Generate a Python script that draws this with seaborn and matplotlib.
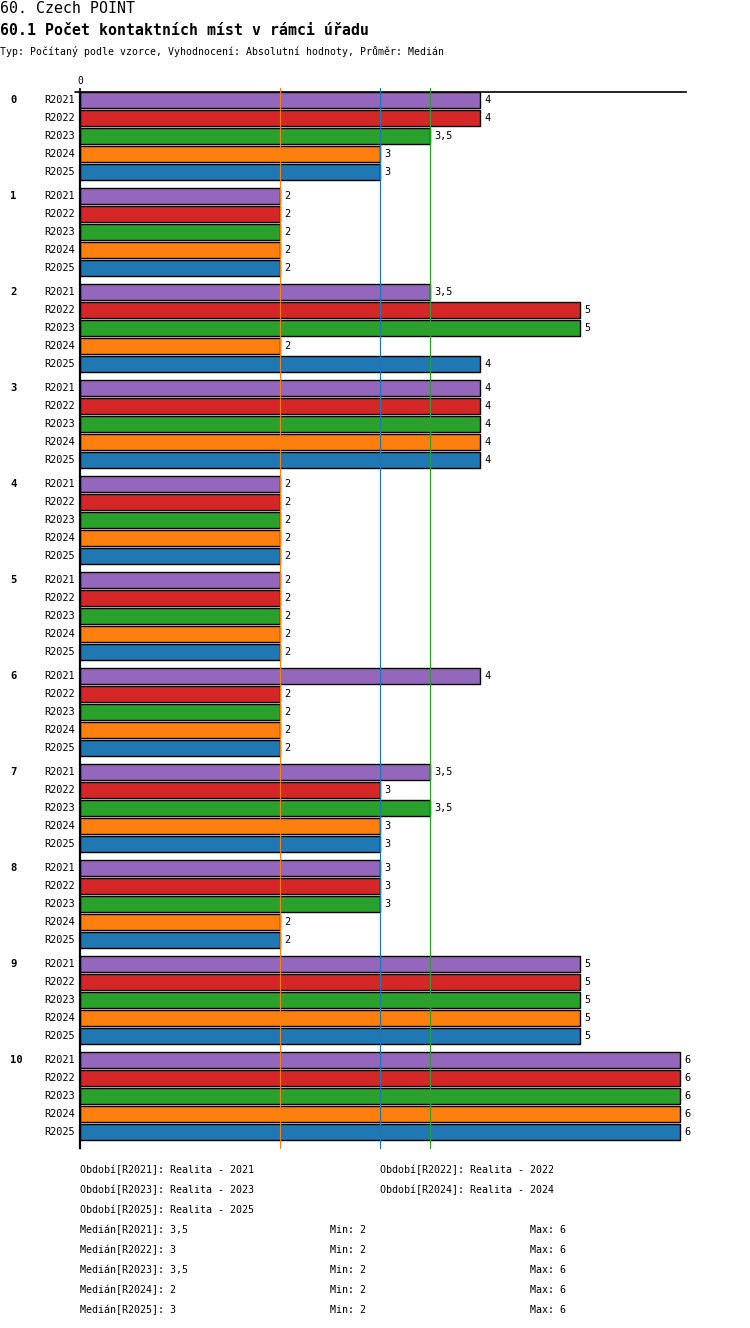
"""
Czech POINT - počet kontaktních míst, horizontální sloupce po obdobích.
"""

import matplotlib.pyplot as plt
import matplotlib.transforms as mtransforms
import numpy as np
import pandas as pd
import seaborn as sns


# ---------------------------------------------------
# Data
# ---------------------------------------------------

groups = ["0", "1", "2", "3", "4", "5", "6", "7", "8", "9", "10"]
periods = ["R2021", "R2022", "R2023", "R2024", "R2025"]
period_names = ["Realita - 2021", "Realita - 2022", "Realita - 2023",
                "Realita - 2024", "Realita - 2025"]

r2021 = [4, 2, 3.5, 4, 2, 2, 4, 3.5, 3, 5, 6]
r2022 = [4, 2, 5, 4, 2, 2, 2, 3, 3, 5, 6]
r2023 = [3.5, 2, 5, 4, 2, 2, 2, 3.5, 3, 5, 6]
r2024 = [3, 2, 2, 4, 2, 2, 2, 3, 2, 5, 6]
r2025 = [3, 2, 4, 4, 2, 2, 2, 3, 2, 5, 6]

colors = ["#9467bd", "#d62728", "#2ca02c", "#ff7f0e", "#1f77b4"]

series = [r2021, r2022, r2023, r2024, r2025]

df = pd.DataFrame({
    "group": [g for _ in periods for g in groups],
    "period": [p for p in periods for _ in groups],
    "value": [v for s in series for v in s],
})


def fmt(v):
    s = f"{v:g}"
    return s.replace(".", ",")


# ---------------------------------------------------
# Figure
# ---------------------------------------------------

sns.set_style("white")
plt.rcParams["font.family"] = ["DejaVu Sans Mono", "DejaVu Sans"]
plt.rcParams["text.color"] = "black"
plt.rcParams["xtick.color"] = "black"
plt.rcParams["axes.edgecolor"] = "black"

W, H = 750, 1328
fig = plt.figure(figsize=(W / 100, H / 100), dpi=100)

ax_left, ax_right = 80, 686
ax_top, ax_bottom = 92, 1148
ax = fig.add_axes([
    ax_left / W,
    1 - ax_bottom / H,
    (ax_right - ax_left) / W,
    (ax_bottom - ax_top) / H,
])

sns.barplot(
    data=df,
    x="value",
    y="group",
    hue="period",
    order=groups,
    hue_order=periods,
    palette=colors,
    orient="h",
    width=0.9375,
    gap=0.11,
    edgecolor="black",
    linewidth=1,
    saturation=1,
    legend=False,
    ax=ax,
)

ax.set_xlim(0, 6.06)
ax.set_ylim(10.542, -0.458)

# median lines
for s, c in zip(series, colors):
    ax.axvline(np.median(s), ymin=0, ymax=1 + 4 / 1056, color=c,
               linewidth=0.8, clip_on=False, zorder=5)

# spines
for side in ["right", "bottom"]:
    ax.spines[side].set_visible(False)
ax.spines["left"].set_linewidth(1.6)
ax.spines["top"].set_linewidth(1.2)
ax.plot([-5 / 606, 0], [1, 1], transform=ax.transAxes, color="black",
        linewidth=1.2, clip_on=False)

ax.xaxis.tick_top()
ax.set_xticks([0])
ax.set_xticklabels(["0"], fontsize=7)
ax.tick_params(axis="x", length=3, width=1.2, pad=1, colors="black")
ax.set_yticks([])
ax.set_xlabel("")
ax.set_ylabel("")

# labels per bar
blend = mtransforms.blended_transform_factory(fig.transFigure, ax.transData)
for i, cont in enumerate(ax.containers):
    for j, bar in enumerate(cont):
        yc = bar.get_y() + bar.get_height() / 2
        w = bar.get_width()
        ax.text(w + 0.04, yc, fmt(w), va="center", ha="left", fontsize=7.4)
        fig.text(75 / W, yc, periods[i], transform=blend, va="center",
                 ha="right", fontsize=7.4)
        if i == 0:
            fig.text(10 / W, yc, groups[j], transform=blend, va="center",
                     ha="left", fontsize=7.6, fontweight="bold")


def ptext(x, y, s, va="center", **kw):
    fig.text(x / W, 1 - y / H, s, va=va, ha="left", **kw)


# titles
ptext(0, 13, "60. Czech POINT", va="baseline", fontsize=10.7)
ptext(0, 35, "60.1 Počet kontaktních míst v rámci úřadu", va="baseline",
      fontsize=10.7, fontweight="bold")
ptext(0, 55, "Typ: Počítaný podle vzorce, Vyhodnocení: Absolutní hodnoty, "
      "Průměr: Medián", va="baseline", fontsize=7.1)

# legend of periods
for k, (p, name) in enumerate(zip(periods, period_names)):
    x = 80 if k % 2 == 0 else 380
    y = 1170 + 20 * (k // 2)
    ptext(x, y, f"Období[{p}]: {name}", fontsize=7.2)

# stats
for k, (p, s) in enumerate(zip(periods, series)):
    y = 1230 + 20 * k
    ptext(80, y, f"Medián[{p}]: {fmt(np.median(s))}", fontsize=7.2)
    ptext(330, y, f"Min: {fmt(min(s))}", fontsize=7.2)
    ptext(530, y, f"Max: {fmt(max(s))}", fontsize=7.2)

fig.savefig("out.png", dpi=100)
